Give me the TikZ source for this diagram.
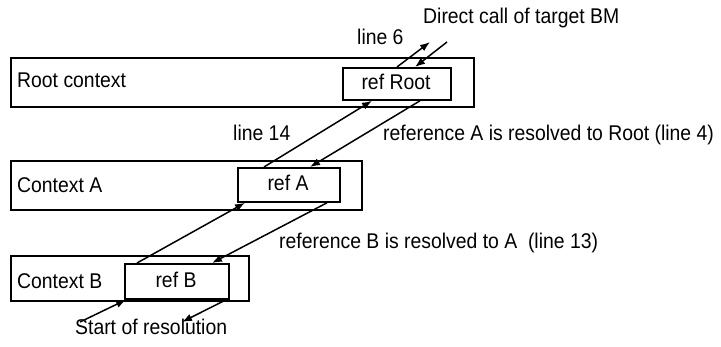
\documentclass[tikz,border=0pt]{standalone}
\usepackage{fontspec}
\setmainfont{Liberation Sans}[FakeStretch=0.91]
\usetikzlibrary{arrows.meta}
\begin{document}
\begin{tikzpicture}[x=1pt,y=-1pt,
  box/.style={draw,line width=1.8pt,inner sep=0pt,anchor=north west},
  lbl/.style={font=\fontsize{21.3}{25}\selectfont,inner sep=0pt,anchor=base west},
  arr/.style={line width=1.5pt,-{Latex[length=10pt,width=7.5pt]}}]
\useasboundingbox (0,0) rectangle (721,347);
% context boxes
\node[box,minimum width=463,minimum height=49] (rootctx) at (10,57) {};
\node[box,minimum width=351,minimum height=49] (ctxA) at (10,160) {};
\node[box,minimum width=238,minimum height=45] (ctxB) at (10,255) {};
% reference boxes
\node[box,minimum width=108,minimum height=32] (refroot) at (342,67) {};
\node[box,minimum width=102,minimum height=34] (refA) at (237,167) {};
\node[box,minimum width=104,minimum height=35] (refB) at (124,263) {};
% box texts
\node[lbl] (trootctx) at (17,88) {Root context};
\node[lbl] (tctxA) at (17,193) {Context A};
\node[lbl] (tctxB) at (17,289) {Context B};
\node[lbl,anchor=base] (trefroot) at (396,90) {ref Root};
\node[lbl,anchor=base] (trefA) at (288,191) {ref A};
\node[lbl,anchor=base] (trefB) at (176,288) {ref B};
% annotations
\node[lbl] (direct) at (423,24) {Direct call of target BM};
\node[lbl] (line6) at (357,45) {line 6};
\node[lbl] (line14) at (233,141) {line 14};
\node[lbl] (resA) at (383,141) {reference A is resolved to Root (line 4)};
\node[lbl] (resB) at (279,249) {reference B is resolved to A~~(line 13)};
\node[lbl] (start) at (75,335) {Start of resolution};
% free ends
\coordinate (callout) at (430,42);
\coordinate (callin) at (447,42);
\coordinate (startin) at (80,322);
\coordinate (startout) at (182,322);
% connectors
\draw[arr] ([xshift=55pt]refroot.north west) -- (callout);
\draw[arr] (callin) -- ([xshift=73pt]refroot.north west);
\draw[arr] ([xshift=27pt]refA.north west) -- ([xshift=30pt]refroot.south west);
\draw[arr] ([xshift=78pt]refroot.south west) -- ([xshift=73pt]refA.north west);
\draw[arr] ([xshift=13pt]refB.north west) -- ([xshift=8pt]refA.south west);
\draw[arr] ([xshift=90pt]refA.south west) -- ([xshift=88pt]refB.north west);
\draw[arr] (startin) -- ([xshift=2pt]refB.south west);
\draw[arr] ([xshift=102pt]refB.south west) -- (startout);
\end{tikzpicture}
\end{document}
